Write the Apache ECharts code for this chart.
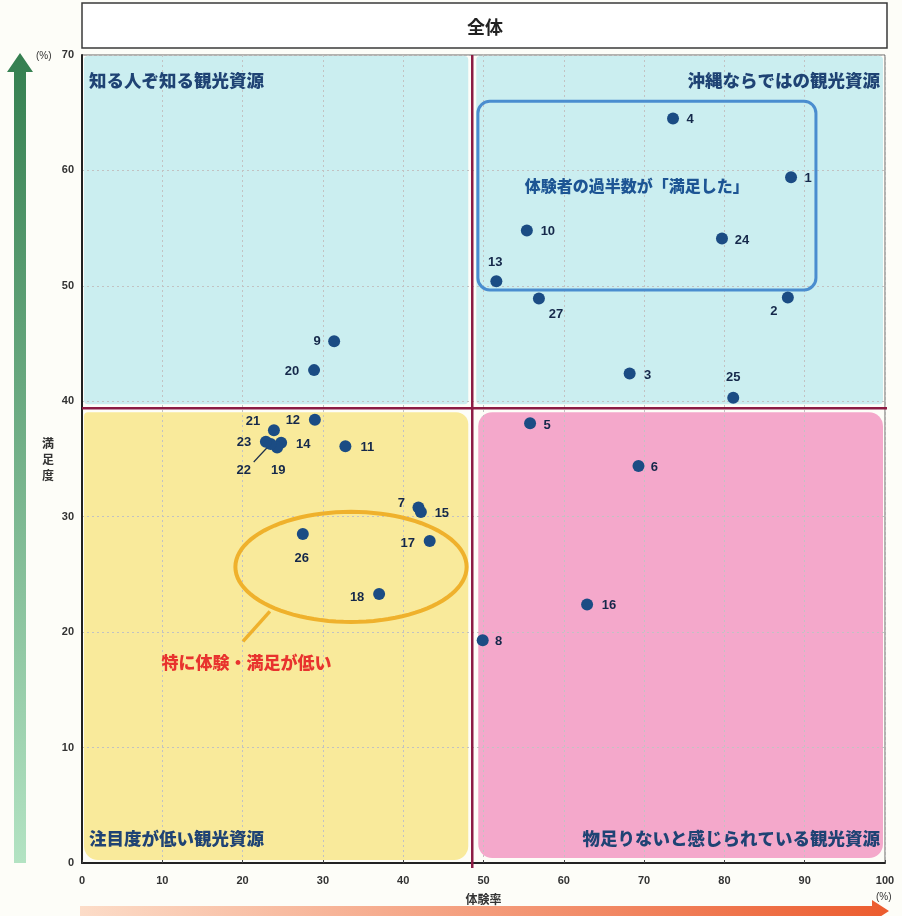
<!DOCTYPE html>
<html><head><meta charset="utf-8">
<script src="https://cdn.jsdelivr.net/npm/echarts@6/dist/echarts.min.js"></script>
<style>html,body{margin:0;padding:0;background:#fdfdf8}#c{width:902px;height:916px}</style>
</head><body><div id="c"></div>
<script>
// ---- data ----
const pointIds = ['1','2','3','4','5','6','7','8','9','10','11','12','13','14','15','16','17','18','19','20','21','22','23','24','25','26','27'];
const experienceRate = [88.3,87.9,68.2,73.6,55.8,69.3,41.9,49.9,31.4,55.4,32.8,29.0,51.6,24.8,42.2,62.9,43.3,37.0,24.3,28.9,23.9,23.5,22.9,79.7,81.1,27.5,56.9];
const satisfaction   = [59.4,49.0,42.4,64.5,38.1,34.4,30.8,19.3,45.2,54.8,36.1,38.4,50.4,36.4,30.4,22.4,27.9,23.3,36.0,42.7,37.5,36.3,36.5,54.1,40.3,28.5,48.9];
const xTicks = [0,10,20,30,40,50,60,70,80,90,100];
const yTicks = [0,10,20,30,40,50,60,70];
const experienceThreshold = 48.6;
const satisfactionThreshold = 39.4;
const chartTitle = '全体';
const xAxisName = '体験率';
const yAxisName = '満足度';
const quadrantNames = ['知る人ぞ知る観光資源','沖縄ならではの観光資源','注目度が低い観光資源','物足りないと感じられている観光資源'];
const satisfiedBox = [49.3, 91.4, 49.65, 66.0];       // xmin,xmax,ymin,ymax
const satisfiedText = '体験者の過半数が「満足した」';
const satisfiedTextAt = [69.1, 58.7];
const lowEllipse = [33.5, 25.65, 14.4, 4.77];          // cx,cy,rx,ry (data units)
const lowText = '特に体験・満足が低い';
const lowCallout = [[23.4, 21.8], [20.05, 19.2]];
const lowTextAt = [20.5, 17.4];
const leaderLineId = '22';

// ---- label placement (pixel offsets from the dot) ----
const labelOffset = {
 '1':[17,1],'2':[-14,14],'3':[18,2],'4':[17,1],'5':[17,2],'6':[16,1],'7':[-17,-4],'8':[16,1],'9':[-17,0],
 '10':[21,1],'11':[22,1],'12':[-22,1],'13':[-1,-19],'14':[22,2],'15':[21,1],'16':[22,1],'17':[-22,2],
 '18':[-22,3],'19':[1,23],'20':[-22,1],'21':[-21,-9],'22':[-27,26],'23':[-22,1],'24':[20,2],'25':[0,-20],
 '26':[-1,24],'27':[17,16]
};

const FONT_JP = "'Noto Sans CJK JP','Noto Sans',sans-serif";
const FONT_NUM = "'Liberation Sans Narrow','Liberation Sans',Arial,sans-serif";
const FONT_LBL = "'Liberation Sans',Arial,sans-serif";

const chart = echarts.init(document.getElementById('c'), null, {renderer:'canvas'});

const points = pointIds.map((id,i)=>({
  name:id, value:[experienceRate[i], satisfaction[i]],
  label:{offset:labelOffset[id]}
}));
const xMin = xTicks[0], xMax = xTicks[xTicks.length-1];
const yMin = yTicks[0], yMax = yTicks[yTicks.length-1];

function ellipsePoints(api, e){
  const pts=[];
  for(let k=0;k<96;k++){
    const t=k/96*Math.PI*2;
    pts.push(api.coord([e[0]+e[2]*Math.cos(t), e[1]+e[3]*Math.sin(t)]));
  }
  return pts;
}

const option = {
  backgroundColor:'#fdfdf8',
  animation:false,
  title:{text:chartTitle,left:462,top:13,textStyle:{fontFamily:FONT_JP,fontSize:18,fontWeight:'bold',color:'#222'}},
  graphic:[
    {type:'rect',z:-10,shape:{x:82,y:3,width:805,height:45},style:{fill:'#fff',stroke:'#3a3a3a',lineWidth:1.5}},
    {type:'polygon',z:-10,shape:{points:[[14,863],[26,863],[26,72],[33,72],[20,53],[7,72],[14,72]]},
      style:{fill:new echarts.graphic.LinearGradient(0,0,0,1,[{offset:0,color:'#347f50'},{offset:1,color:'#b3e3c3'}])}},
    {type:'polygon',z:-10,shape:{points:[[80,906],[872,906],[872,900],[889,911],[872,922],[872,917],[80,917]]},
      style:{fill:new echarts.graphic.LinearGradient(0,0,1,0,[{offset:0,color:'#fcdcc8'},{offset:1,color:'#ec5c2f'}])}},
    {type:'text',left:36,top:51,style:{text:'(%)',font:"10px "+FONT_NUM,fill:'#333'}},
    {type:'text',left:876,top:892,style:{text:'(%)',font:"10px "+FONT_NUM,fill:'#333'}}
  ],
  grid:{left:82,right:17,top:55,bottom:53,show:true,borderColor:'#666',borderWidth:1,backgroundColor:'transparent'},
  xAxis:{type:'value',min:xMin,max:xMax,interval:10,
    name:xAxisName,nameLocation:'middle',nameGap:30,
    nameTextStyle:{fontFamily:FONT_JP,fontSize:12,fontWeight:'bold',color:'#333'},
    axisLine:{show:true,onZero:false,lineStyle:{color:'#222',width:2}},
    axisTick:{show:true,inside:true,length:3,lineStyle:{color:'#444'}},
    axisLabel:{margin:12,fontFamily:FONT_NUM,fontSize:11,fontWeight:'bold',color:'#333'},
    splitLine:{show:true,lineStyle:{color:'#c2c2c2',type:[2,3],width:1}}
  },
  yAxis:{type:'value',min:yMin,max:yMax,interval:10,
    name:yAxisName.split('').join('\n'),nameLocation:'middle',nameGap:28,nameRotate:0,
    nameTextStyle:{fontFamily:FONT_JP,fontSize:12,fontWeight:'bold',color:'#333',lineHeight:16},
    axisLine:{show:true,onZero:false,lineStyle:{color:'#222',width:2}},
    axisTick:{show:false},
    axisLabel:{margin:8,fontFamily:FONT_NUM,fontSize:11,fontWeight:'bold',color:'#333'},
    splitLine:{show:true,lineStyle:{color:'#c2c2c2',type:[2,3],width:1}}
  },
  series:[
    { // quadrant backgrounds
      type:'custom',z:-1,silent:true,
      data:[[experienceThreshold, satisfactionThreshold]],
      renderItem:(params, api)=>{
        const c = api.coord([api.value(0), api.value(1)]);
        const tl = api.coord([xMin, yMax]), br = api.coord([xMax, yMin]);
        const g=4;
        const L=tl[0]+2, T=tl[1]+1, R=br[0]-2, B=br[1]-3;
        return {type:'group',children:[
          {type:'rect',shape:{x:L,y:T,width:c[0]-g-L,height:c[1]-g-T,r:4},style:{fill:'#cbeef0'}},
          {type:'rect',shape:{x:c[0]+g,y:T,width:R-c[0]-g,height:c[1]-g-T,r:4},style:{fill:'#cbeef0'}},
          {type:'rect',shape:{x:L,y:c[1]+g,width:c[0]-g-L,height:B-c[1]-g,r:[4,12,14,14]},style:{fill:'#f9ea9b'}},
          {type:'rect',shape:{x:c[0]+g+2,y:c[1]+g,width:R-c[0]-g-2,height:B-c[1]-g-2,r:14},style:{fill:'#f4a8cb'}}
        ]};
      }
    },
    { // overlays: threshold lines, boxes, quadrant names, annotations
      type:'custom',z:3,silent:true,
      data:[[experienceThreshold, satisfactionThreshold]],
      renderItem:(params, api)=>{
        const c = api.coord([api.value(0), api.value(1)]);
        const tl = api.coord([xMin, yMax]), br = api.coord([xMax, yMin]);
        const qFont = "900 17.5px "+FONT_JP, qFill='#1f4374';
        const b0 = api.coord([satisfiedBox[0], satisfiedBox[3]]), b1 = api.coord([satisfiedBox[1], satisfiedBox[2]]);
        const st = api.coord(satisfiedTextAt);
        const lc0 = api.coord(lowCallout[0]), lc1 = api.coord(lowCallout[1]);
        const lt = api.coord(lowTextAt);
        const li = pointIds.indexOf(leaderLineId);
        const lp = api.coord([experienceRate[li], satisfaction[li]]);
        return {type:'group',children:[
          {type:'text',style:{text:quadrantNames[0],x:tl[0]+7,y:tl[1]+25,font:qFont,fill:qFill,textAlign:'left',textVerticalAlign:'middle'}},
          {type:'text',style:{text:quadrantNames[1],x:br[0]-5,y:tl[1]+25,font:qFont,fill:qFill,textAlign:'right',textVerticalAlign:'middle'}},
          {type:'text',style:{text:quadrantNames[2],x:tl[0]+7,y:br[1]-25,font:qFont,fill:qFill,textAlign:'left',textVerticalAlign:'middle'}},
          {type:'text',style:{text:quadrantNames[3],x:br[0]-5,y:br[1]-25,font:qFont,fill:qFill,textAlign:'right',textVerticalAlign:'middle'}},
          {type:'line',shape:{x1:c[0],y1:tl[1],x2:c[0],y2:br[1]+5},style:{stroke:'#8c1c44',lineWidth:2.5}},
          {type:'line',shape:{x1:tl[0],y1:c[1],x2:br[0]+2,y2:c[1]},style:{stroke:'#8c1c44',lineWidth:2.5}},
          {type:'rect',shape:{x:b0[0],y:b0[1],width:b1[0]-b0[0],height:b1[1]-b0[1],r:12},style:{fill:'none',stroke:'#4a8dcf',lineWidth:3}},
          {type:'text',style:{text:satisfiedText,x:st[0],y:st[1],font:"900 16px "+FONT_JP,fill:'#1d5594',textAlign:'center',textVerticalAlign:'middle'}},
          {type:'polygon',shape:{points:ellipsePoints(api, lowEllipse)},style:{fill:'none',stroke:'#efb12c',lineWidth:4}},
          {type:'line',shape:{x1:lc0[0],y1:lc0[1],x2:lc1[0],y2:lc1[1]},style:{stroke:'#efb12c',lineWidth:3.5}},
          {type:'text',style:{text:lowText,x:lt[0],y:lt[1],font:"900 17px "+FONT_JP,fill:'#e8332e',textAlign:'center',textVerticalAlign:'middle'}},
          {type:'line',shape:{x1:lp[0]-3,y1:lp[1]+3,x2:lp[0]-17,y2:lp[1]+18},style:{stroke:'#1d2f4a',lineWidth:1.2}}
        ]};
      }
    },
    {
      type:'scatter',z:5,
      data:points,
      symbol:'circle',symbolSize:12,
      itemStyle:{color:'#1b4c84',opacity:1},
      label:{show:true,position:'inside',formatter:'{b}',fontFamily:FONT_LBL,fontSize:13,fontWeight:'bold',color:'#15284a'},
      emphasis:{disabled:true}
    }
  ]
};
chart.setOption(option);
</script>
</body></html>
